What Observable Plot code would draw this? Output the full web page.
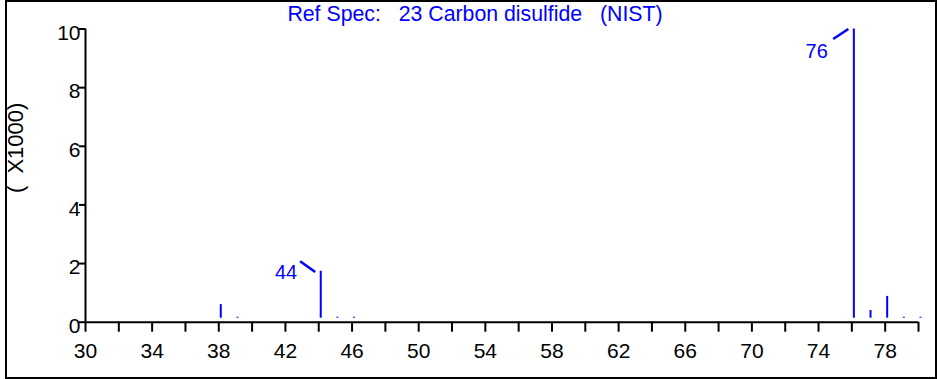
<!DOCTYPE html>
<html>
<head>
<meta charset="utf-8">
<script src="https://cdn.jsdelivr.net/npm/d3@7"></script>
<script src="https://cdn.jsdelivr.net/npm/@observablehq/plot@0.6"></script>
<style>
  html, body { margin: 0; padding: 0; background: #fff; }
  #chart { position: relative; width: 940px; height: 379px; overflow: hidden; }
  #chart svg text { white-space: pre; }
  #border { position: absolute; left: 5px; top: 0; width: 932px; height: 379px;
            box-sizing: border-box; border: 2px solid #000; pointer-events: none; }
</style>
</head>
<body>
<div id="chart"><div id="border"></div></div>
<script>
// Reference mass spectrum of carbon disulfide (NIST library entry 23)
const title = "Ref Spec:   23 Carbon disulfide   (NIST)";
const yLabel = "(  X1000)";

// m/z of each peak and its abundance (counts)
const mz        = [38,  39,  44,   45,  46,  76,    77,  78,  79,  80];
const abundance = [600, 170, 1740, 170, 170, 10000, 400, 880, 170, 170];

// peaks annotated with their m/z
const labeledPeaks = [44, 76];

// axis ticks
const xTicks = [30, 32, 34, 36, 38, 40, 42, 44, 46, 48, 50, 52, 54, 56, 58, 60,
                62, 64, 66, 68, 70, 72, 74, 76, 78, 80];
const xTickLabels = [30, 34, 38, 42, 46, 50, 54, 58, 62, 66, 70, 74, 78];
const yTicks = [0, 2, 4, 6, 8, 10];

const peaks = mz.map((m, i) => ({mz: m, y: abundance[i] / 1000}));
const labels = peaks.filter(d => labeledPeaks.includes(d.mz));
const nearTop = d => d.y > 9;   // labels of tall peaks hang below their leader

const blue = "#0000ff";
const font = "'Liberation Sans', Arial, sans-serif";
const stickShift = 2;           // sticks sit a hair right of the tick marks

const chart = Plot.plot({
  width: 940,
  height: 379,
  marginLeft: 85,
  marginRight: 22,
  marginTop: 28.5,
  marginBottom: 57.3,
  style: {fontFamily: font, background: "white", overflow: "visible"},
  x: {domain: [30, 80], axis: null},
  y: {domain: [0, 10], axis: null},
  marks: [
    // spectrum sticks, stopping just above the baseline
    Plot.ruleX(peaks, {x: "mz", y1: "y", y2: 0, insetBottom: 4, dx: stickShift,
                       stroke: blue, strokeWidth: 2}),

    // axis lines
    Plot.ruleY([0], {stroke: "black", strokeWidth: 2}),
    Plot.ruleX([30], {stroke: "black", strokeWidth: 2}),

    // x ticks (downward) and y ticks (leftward)
    Plot.ruleX(xTicks, {x: d => d, y1: 0, y2: 0, insetBottom: -10, stroke: "black", strokeWidth: 2}),
    Plot.ruleY(yTicks, {y: d => d, x1: 30, x2: 30, insetLeft: -6, stroke: "black", strokeWidth: 2}),

    // tick labels
    Plot.text(xTickLabels, {x: d => d, y: 0, dy: 29, fontSize: 21, fill: "black"}),
    Plot.text(yTicks, {x: 30, y: d => d, dx: -5, dy: 4, textAnchor: "end", fontSize: 21, fill: "black"}),

    // peak annotations: leader line plus m/z label
    Plot.link(labels, {
      x1: d => d.mz - 0.33,
      y1: d => nearTop(d) ? d.y : d.y - 0.03,
      x2: d => d.mz - 1.24,
      y2: d => nearTop(d) ? d.y - 0.34 : d.y + 0.34,
      dx: stickShift, stroke: blue, strokeWidth: 2.5
    }),
    Plot.text(labels.filter(d => !nearTop(d)), {
      x: "mz", y: "y", text: d => String(d.mz), dx: -21.5, dy: 1.5,
      textAnchor: "end", fill: blue, fontSize: 20
    }),
    Plot.text(labels.filter(nearTop), {
      x: "mz", y: "y", text: d => String(d.mz), dx: -24, dy: 23,
      textAnchor: "end", fill: blue, fontSize: 20
    }),

    // title and y-axis unit label
    Plot.text([title], {frameAnchor: "top", dx: -27, dy: -23, fill: blue, fontSize: 21.3}),
    Plot.text([yLabel], {frameAnchor: "left", dx: -70, dy: 17.5, rotate: -90, fontSize: 22, fill: "black"})
  ]
});

document.getElementById("chart").prepend(chart);
</script>
</body>
</html>
